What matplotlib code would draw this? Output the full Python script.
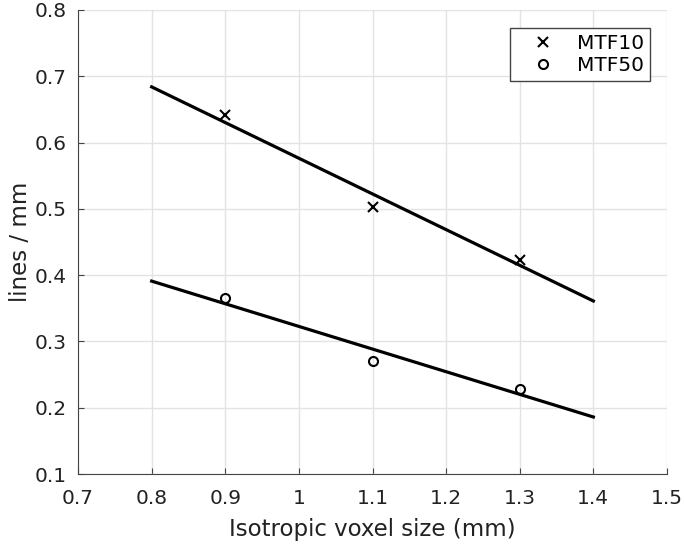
import matplotlib
matplotlib.use('Agg')
import matplotlib.pyplot as plt

plt.rcParams['font.family'] = ['DejaVu Sans']

voxel = [0.9, 1.1, 1.3]
mtf10 = [0.641, 0.503, 0.423]
mtf50 = [0.365, 0.270, 0.228]

# fitted lines, end points
fit_x = [0.8, 1.4]
fit10 = [0.684, 0.361]
fit50 = [0.391, 0.186]

xticks = [0.7, 0.8, 0.9, 1.0, 1.1, 1.2, 1.3, 1.4, 1.5]
xticklabels = ['0.7', '0.8', '0.9', '1', '1.1', '1.2', '1.3', '1.4', '1.5']
yticks = [0.1, 0.2, 0.3, 0.4, 0.5, 0.6, 0.7, 0.8]

fig = plt.figure(figsize=(6.85, 5.48), dpi=100)
ax = fig.add_axes([0.1139, 0.135, 0.8598, 0.8468])

ax.plot(voxel, mtf10, linestyle='none', marker='x', color='black',
        markersize=6.5, markeredgewidth=1.5, label='MTF10')
ax.plot(voxel, mtf50, linestyle='none', marker='o', color='black',
        markerfacecolor='none', markersize=6.5, markeredgewidth=1.5, label='MTF50')
ax.plot(fit_x, fit10, color='black', linewidth=2.3)
ax.plot(fit_x, fit50, color='black', linewidth=2.3)

ax.set_xlim(0.7, 1.5)
ax.set_ylim(0.1, 0.8)
ax.set_xticks(xticks)
ax.set_xticklabels(xticklabels)
ax.set_yticks(yticks)
ax.set_yticklabels([f'{v:g}' for v in yticks])

ax.grid(True, color='#e3e3e3', linewidth=1)
ax.set_axisbelow(True)
ax.spines['top'].set_visible(False)
ax.spines['right'].set_visible(False)
ax.spines['left'].set_color('#444444')
ax.spines['bottom'].set_color('#444444')
ax.tick_params(direction='in', length=4, color='#444444', labelsize=14.5,
               labelcolor='#222222')
ax.tick_params(axis='x', pad=11)
ax.tick_params(axis='y', pad=8)

ax.set_xlabel('Isotropic voxel size (mm)', fontsize=16.5, color='#222222', labelpad=7)
ax.set_ylabel('lines / mm', fontsize=16.5, color='#222222', labelpad=2)

leg = ax.legend(loc='upper right', bbox_to_anchor=(0.971, 0.961), borderaxespad=0,
                fontsize=14.5, fancybox=False, framealpha=1, edgecolor='#444444',
                handlelength=2.6, handletextpad=0.4, borderpad=0.3,
                labelspacing=0.15)
leg.get_frame().set_linewidth(1)

fig.savefig('out.png', dpi=100)
